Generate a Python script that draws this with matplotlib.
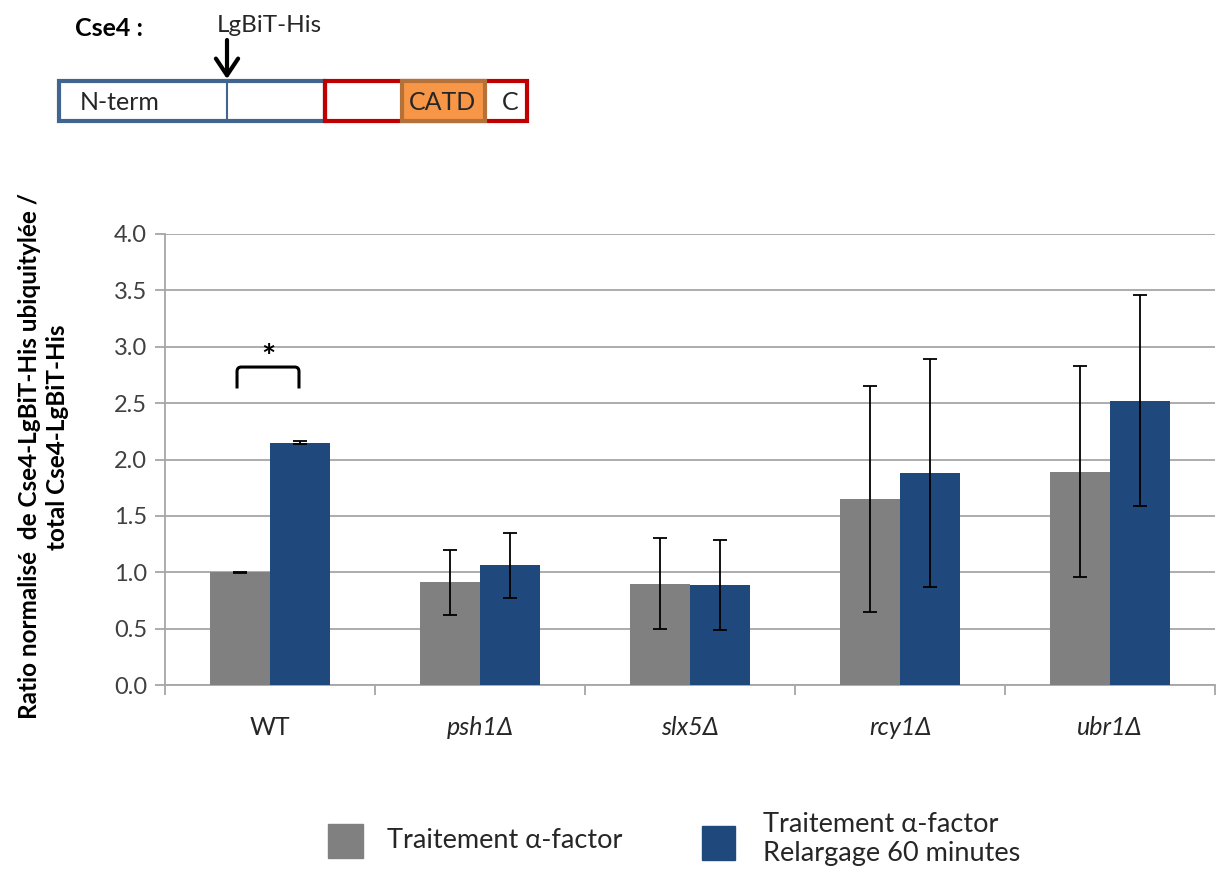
import matplotlib
matplotlib.use("Agg")
import matplotlib.pyplot as plt
from matplotlib.patches import Rectangle, FancyArrowPatch, PathPatch
from matplotlib.lines import Line2D
from matplotlib.path import Path

plt.rcParams['font.family'] = ['Lato', 'DejaVu Sans']

categories = ["WT", "psh1Δ", "slx5Δ", "rcy1Δ", "ubr1Δ"]
italic = [False, True, True, True, True]
alpha_vals = [1.00, 0.91, 0.90, 1.65, 1.89]
alpha_err = [0.005, 0.29, 0.40, 1.00, 0.935]
release_vals = [2.15, 1.06, 0.89, 1.88, 2.52]
release_err = [0.01, 0.29, 0.40, 1.01, 0.935]
yticks = [0.0, 0.5, 1.0, 1.5, 2.0, 2.5, 3.0, 3.5, 4.0]
series_labels = ["Traitement α-factor", "Traitement α-factor\nRelargage 60 minutes"]

GRAY = "#808080"
BLUE = "#1F497D"
W, H = 1217, 876
fig = plt.figure(figsize=(W / 100, H / 100), dpi=100)

def fx(px):
    return px / W

def fy(py):
    return 1 - py / H

ax = fig.add_axes([fx(165), fy(685), fx(1215) - fx(165), fy(234) - fy(685)])
x = list(range(len(categories)))
bw = 0.286
ax.bar([i - bw / 2 for i in x], alpha_vals, bw, color=GRAY, zorder=3)
ax.bar([i + bw / 2 for i in x], release_vals, bw, color=BLUE, zorder=3)
ek = dict(ecolor="black", elinewidth=1.3, capsize=5, capthick=1.3, fmt="none", zorder=4)
ax.errorbar([i - bw / 2 for i in x], alpha_vals, yerr=alpha_err, **ek)
ax.errorbar([i + bw / 2 for i in x], release_vals, yerr=release_err, **ek)

ax.set_xlim(-0.5, len(categories) - 0.5)
ax.set_ylim(0, 4.0)
ax.set_yticks(yticks)
ax.set_yticklabels([f"{v:.1f}" for v in yticks], fontsize=17, color="#404040")
ax.yaxis.grid(True, color="#A6A6A6", linewidth=1.3, zorder=0)
ax.set_axisbelow(True)
for s in ["top", "right"]:
    ax.spines[s].set_visible(False)
for s in ["left", "bottom"]:
    ax.spines[s].set_color("#A6A6A6")
    ax.spines[s].set_linewidth(1.3)
ax.tick_params(axis="y", length=7, color="#A6A6A6", width=1.3, pad=6)
ax.set_xticks([i - 0.5 for i in range(len(categories) + 1)])
ax.set_xticklabels([])
ax.tick_params(axis="x", length=7, color="#A6A6A6", width=1.3)
for i, (c, it) in enumerate(zip(categories, italic)):
    ax.text(i, -0.38, c, ha="center", va="center", fontsize=18,
            style="italic" if it else "normal", color="#262626")

# significance bracket
x0, x1 = -0.157, 0.138
yb, yt = 2.63, 2.82
verts = [(x0, yb), (x0, yt - 0.04), (x0, yt), (x0 + 0.02, yt), (x1 - 0.02, yt), (x1, yt), (x1, yt - 0.04), (x1, yb)]
codes = [Path.MOVETO, Path.LINETO, Path.CURVE3, Path.CURVE3, Path.LINETO, Path.CURVE3, Path.CURVE3, Path.LINETO]
ax.add_patch(PathPatch(Path(verts, codes), fill=False, lw=2.2, edgecolor="black", zorder=5))
ax.text((x0 + x1) / 2, 2.9, "*", ha="center", va="center", fontsize=24, fontweight="bold", color="black")

# y label
fig.text(fx(30), fy(456), "Ratio normalisé  de Cse4-LgBiT-His ubiquitylée /",
         rotation=90, ha="center", va="center", fontsize=17.5, fontweight="bold")
fig.text(fx(58), fy(437), "total Cse4-LgBiT-His",
         rotation=90, ha="center", va="center", fontsize=17.5, fontweight="bold")

# legend
fig.add_artist(Rectangle((fx(328), fy(858)), fx(35), fy(824) - fy(858), color=GRAY, transform=fig.transFigure))
fig.add_artist(Rectangle((fx(702), fy(860)), fx(33), fy(826) - fy(860), color=BLUE, transform=fig.transFigure))
fig.text(fx(387), fy(841), series_labels[0], ha="left", va="center", fontsize=19.5, color="#262626")
fig.text(fx(763), fy(839), series_labels[1], ha="left", va="center", fontsize=19.5, color="#262626", linespacing=1.15)

# protein diagram
fig.add_artist(Rectangle((fx(59), fy(121)), fx(325) - fx(59), fy(81) - fy(121), fill=False,
                         edgecolor="#41658F", linewidth=3, transform=fig.transFigure))
fig.add_artist(Rectangle((fx(325), fy(121)), fx(527) - fx(325), fy(81) - fy(121), fill=False,
                         edgecolor="#C00000", linewidth=3, transform=fig.transFigure))
fig.add_artist(Rectangle((fx(402), fy(121)), fx(485) - fx(402), fy(81) - fy(121), facecolor="#F79646",
                         edgecolor="#B5713A", linewidth=3, transform=fig.transFigure))
fig.add_artist(Line2D([fx(227), fx(227)], [fy(81), fy(121)], color="#41658F", lw=1.5, transform=fig.transFigure))
fig.text(fx(80), fy(102), "N-term", ha="left", va="center", fontsize=18, color="#262626")
fig.text(fx(443), fy(102), "CATD", ha="center", va="center", fontsize=18, color="#262626")
fig.text(fx(510), fy(102), "C", ha="center", va="center", fontsize=18, color="#262626")
fig.add_artist(FancyArrowPatch((fx(227), fy(40)), (fx(227), fy(79)), transform=fig.transFigure,
                               arrowstyle="->,head_length=0.6,head_width=0.4", color="black", lw=3,
                               mutation_scale=20, shrinkA=0, shrinkB=0))
fig.text(fx(269), fy(25), "LgBiT-His", ha="center", va="center", fontsize=17.5, color="#262626")
fig.text(fx(75), fy(28), "Cse4 :", ha="left", va="center", fontsize=18, fontweight="bold", color="black")

fig.savefig("out.png", dpi=100)
